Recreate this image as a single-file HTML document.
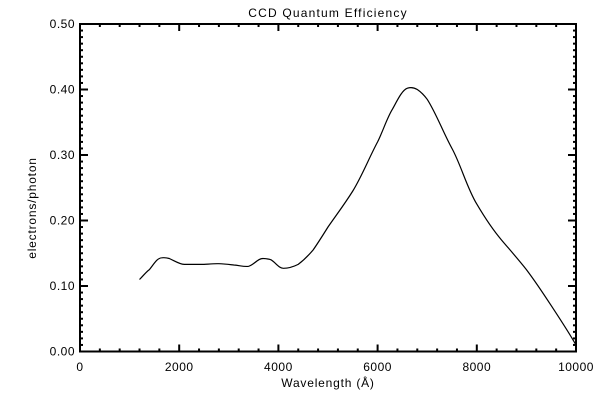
<!DOCTYPE html>
<html><head><style>body{margin:0;background:#fff}svg{display:block}text{font-family:"Liberation Sans",sans-serif;font-size:12px;fill:#000}</style></head>
<body>
<svg id="s" width="600" height="400" xmlns="http://www.w3.org/2000/svg">
<rect x="80" y="24" width="496" height="327.5" fill="none" stroke="#000" stroke-width="2"/>
<text x="328" y="17" text-anchor="middle" font-size="14" letter-spacing="1.2">CCD Quantum Efficiency</text>
<text x="328" y="387" text-anchor="middle" font-size="13" letter-spacing="0.8">Wavelength (Å)</text>
<text transform="translate(36,208) rotate(-90)" text-anchor="middle" font-size="13" letter-spacing="0.8">electrons/photon</text>
<path d="M139.5,279.5 C144,275 146,272 149.4,269.6 C154,264 157,258 161.8,257.8 C165,257.5 167,257.8 169.3,258.5 C175,261 179,264 184.2,264.4 L204,264.4 C210,264 214,263.5 218.9,263.7 C225,264 229,264.5 233.8,265 C240,265.5 244,267 248.6,266.3 C254,265 258,258 263.5,258.5 C267,258.7 269,259 271,259.8 C276,263 279,268.3 283.4,268.3 C289,268.3 293,267 298.2,264.4 C304,260 308,256 313.1,250 C318,243 323,235 328,227 C337,214 344,205 352.8,191 C362,176 369,158 377.6,141.9 C383,131 387,118 392.5,109.1 C397,101 402,90 407.4,88.2 C411,87 414,87.5 417.3,89.5 C421,92 424,95 427.2,99.3 C436,113 443,132 452,148.5 C461,165 467,188 476.8,204.1 C485,218 493,230 501.6,240.1 C510,250 518,259 526.4,269.6 C535,281 543,293 551.2,305.6 C560,319 568,331 576,345" fill="none" stroke="#000" stroke-width="1.2"/>
<g id="t" stroke="#000" stroke-width="2"></g>
<g id="l"></g>
</svg>
<script>
var t=document.getElementById('t'),l=document.getElementById('l'),h='';
for(var i=0;i<=25;i++){var x=80+i*496/25,L=i%5==0?7:3;h+='<line x1="'+x+'" y1="351.5" x2="'+x+'" y2="'+(351.5-L)+'"/><line x1="'+x+'" y1="24" x2="'+x+'" y2="'+(24+L)+'"/>';}
for(var j=0;j<=50;j++){var y=351.5-j*6.55,L=j%10==0?8:3;h+='<line x1="80" y1="'+y+'" x2="'+(80+L)+'" y2="'+y+'"/><line x1="576" y1="'+y+'" x2="'+(576-L)+'" y2="'+y+'"/>';}
t.innerHTML=h;var g='';
for(var i=0;i<=5;i++){g+='<text x="'+(80+i*99.2)+'" y="371" text-anchor="middle" letter-spacing="0.5">'+(i*2000)+'</text>';}
for(var j=0;j<=5;j++){g+='<text x="75" y="'+(355.5-j*65.5)+'" text-anchor="end" letter-spacing="0.5">'+(j/10).toFixed(2)+'</text>';}
l.innerHTML=g;
</script>
</body></html>
